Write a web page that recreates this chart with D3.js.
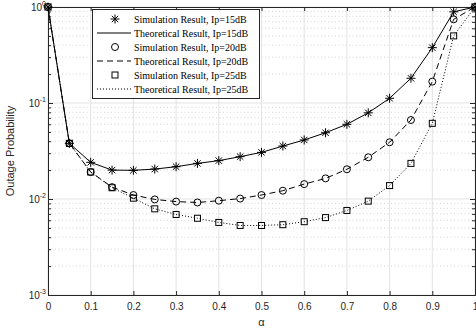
<!DOCTYPE html>
<html>
<head>
<meta charset="utf-8">
<script src="https://cdn.jsdelivr.net/npm/d3@7"></script>
<style>
  html, body { margin: 0; padding: 0; background: #fff; }
  svg { display: block; }
</style>
</head>
<body>
<div id="chart"></div>
<script>
// alpha values (x axis)
const alphas = [0, 0.05, 0.1, 0.15, 0.2, 0.25, 0.3, 0.35, 0.4, 0.45, 0.5,
                0.55, 0.6, 0.65, 0.7, 0.75, 0.8, 0.85, 0.9, 0.95, 1];

// outage probability
const sim15 = [1, 0.038, 0.0241, 0.0200, 0.0199, 0.0205, 0.0217, 0.0235, 0.0251, 0.0276, 0.0306,
               0.0356, 0.0412, 0.049, 0.060, 0.079, 0.112, 0.181, 0.377, 0.89, 1];
const sim20 = [1, 0.038, 0.0191, 0.0133, 0.0110, 0.0099, 0.0094, 0.0092, 0.0096, 0.0101, 0.0110,
               0.0122, 0.0143, 0.0164, 0.0204, 0.0272, 0.039, 0.0665, 0.167, 0.744, 1];
const sim25 = [1, 0.038, 0.0191, 0.0131, 0.0102, 0.0079, 0.0069, 0.0063, 0.0057, 0.0053, 0.0053,
               0.0054, 0.0058, 0.0064, 0.0076, 0.0095, 0.0138, 0.0235, 0.0614, 0.50, 1];
// theoretical curves run through the simulated points
const theo15 = sim15.slice();
const theo20 = sim20.slice();
const theo25 = sim25.slice();

const xTicks = [0, 0.1, 0.2, 0.3, 0.4, 0.5, 0.6, 0.7, 0.8, 0.9, 1];
const xTickLabels = ['0', '0.1', '0.2', '0.3', '0.4', '0.5', '0.6', '0.7', '0.8', '0.9', '1'];
const yDecades = [1, 0.1, 0.01, 0.001];
const yExponents = ['0', '-1', '-2', '-3'];

const legendLabels = [
  'Simulation Result, Ip=15dB',
  'Theoretical Result, Ip=15dB',
  'Simulation Result, Ip=20dB',
  'Theoretical Result, Ip=20dB',
  'Simulation Result, Ip=25dB',
  'Theoretical Result, Ip=25dB'
];

const W = 476, H = 332;
const margin = { top: 7, right: 1, bottom: 37, left: 48 };
const iw = W - margin.left - margin.right;
const ih = H - margin.top - margin.bottom;

const svg = d3.select('#chart').append('svg')
  .attr('width', W)
  .attr('height', H);

const g = svg.append('g')
  .attr('transform', `translate(${margin.left},${margin.top})`);

const x = d3.scaleLinear().domain([0, 1]).range([0, iw]);
const y = d3.scaleLog().domain([0.001, 1]).range([ih, 0]);

const axisColor = '#262626';
const sans = 'Liberation Sans, Arial, sans-serif';
const serif = 'Liberation Serif, Times New Roman, serif';

// minor y values (2..9 per decade)
const minorY = [];
[0.001, 0.01, 0.1].forEach(d => {
  for (let k = 2; k <= 9; k++) minorY.push(d * k);
});

// grid
g.append('g').selectAll('line').data(minorY).join('line')
  .attr('x1', 0).attr('x2', iw)
  .attr('y1', d => y(d)).attr('y2', d => y(d))
  .attr('stroke', '#c8c8c8').attr('stroke-width', 0.8)
  .attr('stroke-dasharray', '1,2.5');
g.append('g').selectAll('line').data(yDecades).join('line')
  .attr('x1', 0).attr('x2', iw)
  .attr('y1', d => y(d)).attr('y2', d => y(d))
  .attr('stroke', '#e3e3e3').attr('stroke-width', 1);
g.append('g').selectAll('line').data(xTicks).join('line')
  .attr('x1', d => x(d)).attr('x2', d => x(d))
  .attr('y1', 0).attr('y2', ih)
  .attr('stroke', '#e3e3e3').attr('stroke-width', 1);

// axes with inward ticks
const xAxisB = d3.axisBottom(x).tickValues(xTicks).tickSize(-4).tickFormat((d, i) => xTickLabels[i]).tickPadding(8);
const xAxisT = d3.axisTop(x).tickValues(xTicks).tickSize(-4).tickFormat('');
const yAxisL = d3.axisLeft(y).tickValues(yDecades).tickSize(-5).tickFormat('');
const yAxisR = d3.axisRight(y).tickValues(yDecades).tickSize(-5).tickFormat('');
const yMinorL = d3.axisLeft(y).tickValues(minorY).tickSize(-3).tickFormat('');
const yMinorR = d3.axisRight(y).tickValues(minorY).tickSize(-3).tickFormat('');

function styleAxis(sel) {
  sel.selectAll('path').attr('stroke', axisColor);
  sel.selectAll('line').attr('stroke', axisColor);
  sel.selectAll('text').attr('fill', axisColor).style('font-family', sans).style('font-size', '10px');
}

g.append('g').attr('transform', `translate(0,${ih})`).call(xAxisB).call(styleAxis);
g.append('g').call(xAxisT).call(styleAxis);
g.append('g').call(yAxisL).call(styleAxis);
g.append('g').attr('transform', `translate(${iw},0)`).call(yAxisR).call(styleAxis);
g.append('g').call(yMinorL).call(styleAxis).select('path').remove();
g.append('g').attr('transform', `translate(${iw},0)`).call(yMinorR).call(styleAxis).select('path').remove();

// y tick labels 10^n
const yl = g.append('g');
yDecades.forEach((d, i) => {
  const t = yl.append('text')
    .attr('x', -2).attr('y', y(d) + 4)
    .attr('text-anchor', 'end')
    .attr('fill', axisColor)
    .style('font-family', sans).style('font-size', '10px');
  t.append('tspan').text('10');
  t.append('tspan').attr('dy', -5).style('font-size', '7px').text(yExponents[i]);
});

// axis labels
svg.append('text')
  .attr('transform', `translate(14,${margin.top + ih / 2}) rotate(-90)`)
  .attr('text-anchor', 'middle')
  .attr('fill', axisColor)
  .style('font-family', sans).style('font-size', '11px')
  .text('Outage Probability');
svg.append('text')
  .attr('x', margin.left + iw / 2).attr('y', 326)
  .attr('text-anchor', 'middle')
  .attr('fill', axisColor)
  .style('font-family', sans).style('font-size', '11px')
  .text('α');

// lines
const line = vals => d3.line()
  .x((d, i) => x(alphas[i]))
  .y(d => y(d))(vals);

const curves = [
  { vals: theo15, dash: null },
  { vals: theo20, dash: '6,4' },
  { vals: theo25, dash: '1,2' }
];
curves.forEach(c => {
  g.append('path')
    .attr('d', line(c.vals))
    .attr('fill', 'none')
    .attr('stroke', '#000')
    .attr('stroke-width', 1)
    .attr('stroke-dasharray', c.dash);
});

// markers
function star(sel, r) {
  const a = r * Math.SQRT1_2;
  sel.append('path')
    .attr('d', `M${-r},0L${r},0M0,${-r}L0,${r}M${-a},${-a}L${a},${a}M${-a},${a}L${a},${-a}`)
    .attr('stroke', '#000').attr('stroke-width', 1).attr('fill', 'none');
}
function circle(sel, r) {
  sel.append('circle').attr('r', r)
    .attr('stroke', '#000').attr('stroke-width', 1).attr('fill', 'none');
}
function square(sel, r) {
  sel.append('rect').attr('x', -r).attr('y', -r).attr('width', 2 * r).attr('height', 2 * r)
    .attr('stroke', '#000').attr('stroke-width', 1).attr('fill', 'none');
}

const markerSets = [
  { vals: sim15, draw: s => star(s, 4.5) },
  { vals: sim20, draw: s => circle(s, 3.5) },
  { vals: sim25, draw: s => square(s, 3) }
];
markerSets.forEach(m => {
  g.append('g').selectAll('g').data(m.vals).join('g')
    .attr('transform', (d, i) => `translate(${x(alphas[i])},${y(d)})`)
    .each(function () { m.draw(d3.select(this)); });
});

// legend
const lg = svg.append('g').attr('transform', 'translate(92,9)');
lg.append('rect')
  .attr('x', 0.5).attr('y', 0.5).attr('width', 167).attr('height', 89)
  .attr('fill', '#fff').attr('stroke', axisColor).attr('stroke-width', 1);
const rowY = i => 10 + i * 14;
legendLabels.forEach((lab, i) => {
  const row = lg.append('g').attr('transform', `translate(0,${rowY(i)})`);
  if (i % 2 === 0) {
    const mk = row.append('g').attr('transform', 'translate(23,0)');
    markerSets[i / 2].draw(mk);
  } else {
    row.append('line')
      .attr('x1', 5).attr('x2', 39).attr('y1', 0).attr('y2', 0)
      .attr('stroke', '#000').attr('stroke-width', 1)
      .attr('stroke-dasharray', curves[(i - 1) / 2].dash);
  }
  row.append('text')
    .attr('x', 42).attr('y', 3.5)
    .attr('fill', '#000')
    .style('font-family', serif).style('font-size', '10px')
    .text(lab);
});
</script>
</body>
</html>
